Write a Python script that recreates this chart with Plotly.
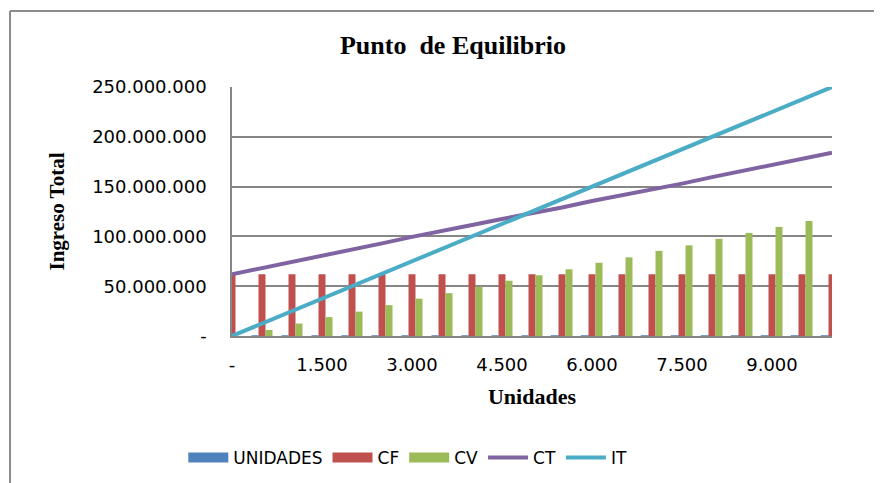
import plotly.graph_objects as go

# datos (valores en pesos)
unidades = [0, 500, 1000, 1500, 2000, 2500, 3000, 3500, 4000, 4500, 5000,
            5500, 6000, 6500, 7000, 7500, 8000, 8500, 9000, 9500, 10000]
cf = [62000000] * 21
cv = [0, 6000000, 12500000, 19000000, 24500000, 31000000, 37500000, 43000000,
      49500000, 55500000, 61000000, 67000000, 73500000, 79000000, 85500000,
      91000000, 97500000, 103500000, 109500000, 115500000, 122000000]
ct = [62000000, 68000000, 74500000, 81000000, 86500000, 93000000, 99500000,
      105000000, 111500000, 117500000, 123000000, 129000000, 135500000,
      141000000, 147500000, 153000000, 159500000, 165500000, 171500000,
      177500000, 184000000]
it = [0, 12500000, 25000000, 37500000, 50000000, 62500000, 75000000, 87500000,
      100000000, 112500000, 125000000, 137500000, 150000000, 162500000,
      175000000, 187500000, 200000000, 212500000, 225000000, 237500000,
      250000000]

x_ticks = [0, 1500, 3000, 4500, 6000, 7500, 9000]
x_labels = ['-', '1.500', '3.000', '4.500', '6.000', '7.500', '9.000']
y_ticks = [0, 50000000, 100000000, 150000000, 200000000, 250000000]
y_labels = ['-', '50.000.000', '100.000.000', '150.000.000', '200.000.000', '250.000.000']

colores = {'UNIDADES': '#4F81BD', 'CF': '#C0504D', 'CV': '#9BBB59', 'CT': '#8064A2', 'IT': '#4BACC6'}

serif = 'Liberation Serif'
sans = 'DejaVu Sans'

fig = go.Figure()
# barras (sin leyenda propia, la leyenda va con rectangulos anchos como en Excel)
fig.add_trace(go.Bar(x=unidades, y=unidades, name='UNIDADES', marker_color=colores['UNIDADES'],
                     marker_line=dict(color=colores['UNIDADES'], width=1.5), showlegend=False))
fig.add_trace(go.Bar(x=unidades, y=cf, name='CF', marker_color=colores['CF'],
                     marker_line_width=0, showlegend=False))
fig.add_trace(go.Bar(x=unidades, y=cv, name='CV', marker_color=colores['CV'],
                     marker_line_width=0, showlegend=False))
fig.add_trace(go.Scatter(x=unidades, y=ct, name='CT', mode='lines', cliponaxis=False,
                         line=dict(color=colores['CT'], width=4), showlegend=False))
fig.add_trace(go.Scatter(x=unidades, y=it, name='IT', mode='lines', cliponaxis=False,
                         line=dict(color=colores['IT'], width=4), showlegend=False))

# entradas de leyenda
for nombre in ['UNIDADES', 'CF', 'CV']:
    fig.add_trace(go.Scatter(x=[None], y=[None], mode='lines', name=nombre,
                             line=dict(color=colores[nombre], width=12)))
for nombre in ['CT', 'IT']:
    fig.add_trace(go.Scatter(x=[None], y=[None], mode='lines', name=nombre,
                             line=dict(color=colores[nombre], width=4)))

fig.update_layout(
    width=874, height=475,
    margin=dict(l=224, r=50, t=79, b=147),
    paper_bgcolor='white', plot_bgcolor='white',
    barmode='group', bargap=0.3, bargroupgap=0,
    title=dict(text='<b>Punto  de Equilibrio</b>', x=445 / 874, xanchor='center',
               y=1 - 37 / 475, yanchor='middle',
               font=dict(family=serif, size=26, color='black')),
    legend=dict(orientation='h', x=0.293, xanchor='center',
                yref='container', y=1 - 450 / 475, yanchor='middle',
                font=dict(family=sans, size=17, color='black'),
                itemwidth=40, traceorder='normal'),
    showlegend=True,
)

fig.update_xaxes(range=[0, 10000], tickvals=x_ticks, ticktext=x_labels, automargin=False,
                 showgrid=False, zeroline=False, showline=True, linecolor='#868686',
                 linewidth=1.5, ticks='', ticklabelstandoff=12,
                 tickfont=dict(family=sans, size=18, color='black'),
                 title=dict(text='<b>Unidades</b>', standoff=14,
                            font=dict(family=serif, size=22, color='black')))
fig.update_yaxes(range=[0, 250000000], tickvals=y_ticks, ticktext=y_labels, automargin=False,
                 showgrid=True, gridcolor='#868686', gridwidth=1.5,
                 zeroline=False, showline=True, linecolor='#868686', linewidth=1.5,
                 ticks='', ticklabelstandoff=20,
                 tickfont=dict(family=sans, size=18, color='black'),
                 title=dict(text='<b>Ingreso Total</b>', standoff=22,
                            font=dict(family=serif, size=21, color='black')))

# marco del area del grafico (solo borde superior e izquierdo visibles)
fx0 = (2 - 224) / 600
fy0 = (328 - 3) / 249
fig.add_shape(type='line', xref='paper', yref='paper', x0=fx0, x1=(880 - 224) / 600,
              y0=fy0, y1=fy0, line=dict(color='#8c8c8c', width=2))
fig.add_shape(type='line', xref='paper', yref='paper', x0=fx0, x1=fx0,
              y0=fy0, y1=(328 - 480) / 249, line=dict(color='#8c8c8c', width=2))

fig.write_html("out.html")
